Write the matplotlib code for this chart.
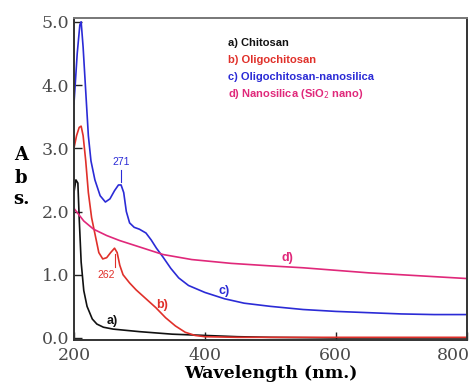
import matplotlib
matplotlib.use("Agg")
import matplotlib.pyplot as plt
import matplotlib.transforms as mtransforms

# Data
wl_a = [200, 203, 206, 208, 211, 215, 220, 228, 235, 245, 260, 280, 300, 350, 400, 450, 500, 600, 700, 800]
abs_a = [2.3, 2.5, 2.45, 1.9, 1.2, 0.75, 0.5, 0.3, 0.22, 0.17, 0.14, 0.12, 0.10, 0.06, 0.04, 0.02, 0.01, 0.0, 0.0, 0.0]

wl_b = [200, 204, 208, 211, 214, 218, 222, 227, 233, 238, 244, 250, 256, 262, 266, 270, 275, 285, 295, 310, 325, 340, 355, 370, 385, 400, 450, 600, 800]
abs_b = [3.0, 3.2, 3.33, 3.35, 3.2, 2.8, 2.3, 1.9, 1.6, 1.35, 1.25, 1.27, 1.35, 1.42, 1.35, 1.15, 1.0, 0.87, 0.76, 0.62, 0.48, 0.32, 0.19, 0.09, 0.04, 0.02, 0.01, 0.01, 0.01]

wl_c = [200, 205, 209, 211, 214, 218, 222, 226, 232, 240, 248, 255, 262, 268, 272, 276, 280, 285, 292, 300, 310, 318, 326, 336, 348, 360, 375, 400, 430, 460, 500, 550, 600, 650, 700, 750, 800]
abs_c = [3.7, 4.5, 4.95, 5.0, 4.6, 3.9, 3.2, 2.8, 2.5, 2.25, 2.15, 2.2, 2.33, 2.42, 2.42, 2.3, 2.0, 1.82, 1.75, 1.72, 1.66, 1.55, 1.42, 1.28, 1.1, 0.95, 0.83, 0.72, 0.62, 0.55, 0.5, 0.45, 0.42, 0.40, 0.38, 0.37, 0.37]

wl_d = [200, 215, 230, 250, 270, 300, 336, 380, 440, 500, 550, 600, 650, 700, 750, 800]
abs_d = [2.05, 1.85, 1.72, 1.62, 1.54, 1.44, 1.32, 1.24, 1.18, 1.14, 1.11, 1.07, 1.03, 1.0, 0.97, 0.94]

legend_labels = ["a) Chitosan", "b) Oligochitosan", "c) Oligochitosan-nanosilica", "d) Nanosilica (SiO$_2$ nano)"]
colors = ["#111111", "#e0302a", "#2b2bd6", "#e0287a"]
curve_tags = ["a)", "b)", "c)", "d)"]
tag_pos = [(258, 0.27), (334, 0.52), (430, 0.75), (526, 1.26)]
xticks = [200, 400, 600, 800]
yticks = [0, 1, 2, 3, 4, 5]

fig = plt.figure(figsize=(4.71, 3.92), dpi=100)
ax = fig.add_axes([0.157, 0.133, 0.834, 0.821])

series = [(wl_a, abs_a), (wl_b, abs_b), (wl_c, abs_c), (wl_d, abs_d)]
for (x, y), c in zip(series, colors):
    ax.plot(x, y, color=c, lw=1.2)

ax.set_xlim(200, 800)
ax.set_ylim(-0.03, 5.06)
ax.set_xticks(xticks)
ax.set_xticklabels([str(t) for t in xticks])
ax.set_yticks(yticks)
ax.set_yticklabels([f"{t:.1f}" for t in yticks])
ax.tick_params(direction="in", length=6, width=1, labelsize=12.5, colors="#222222",
               labelcolor="#4a4a4a")
ax.tick_params(axis="x", pad=5)
for lab in ax.get_xticklabels() + ax.get_yticklabels():
    lab.set_family("DejaVu Serif")
last = ax.get_xticklabels()[-1]
last.set_transform(last.get_transform() + mtransforms.ScaledTranslation(-13 / 100, 0, fig.dpi_scale_trans))
for s in ax.spines.values():
    s.set_linewidth(1.4)
    s.set_color("#333333")
ax.spines["top"].set_color("#777777")

ax.set_xlabel("Wavelength (nm.)", family="DejaVu Serif", fontweight="bold", fontsize=12.5, labelpad=1)
fig.text(0.045, 0.605, "A", family="DejaVu Serif", fontweight="bold", fontsize=13, ha="center", va="center")
fig.text(0.045, 0.547, "b", family="DejaVu Serif", fontweight="bold", fontsize=13, ha="center", va="center")
fig.text(0.045, 0.492, "s.", family="DejaVu Serif", fontweight="bold", fontsize=13, ha="center", va="center")

# legend-like text block
ly = [0.89, 0.848, 0.803, 0.76]
for lbl, c, yy in zip(legend_labels, colors, ly):
    fig.text(0.484, yy, lbl, color=c, family="Liberation Sans", fontweight="bold", fontsize=8, va="center")

# curve tags
for tag, (tx, ty), c in zip(curve_tags, tag_pos, colors):
    ax.text(tx, ty, tag, color=c, family="Liberation Sans", fontweight="bold", fontsize=9, ha="center", va="center")

# peak annotations
ax.text(272, 2.78, "271", color=colors[2], family="Liberation Sans", fontsize=7.5, ha="center", va="center")
ax.plot([272, 272], [2.66, 2.46], color=colors[2], lw=0.8)
ax.text(249, 1.0, "262", color=colors[1], family="Liberation Sans", fontsize=7.5, ha="center", va="center")
ax.plot([262, 262], [1.33, 1.12], color=colors[1], lw=0.8)

fig.savefig("out.png", dpi=100)
